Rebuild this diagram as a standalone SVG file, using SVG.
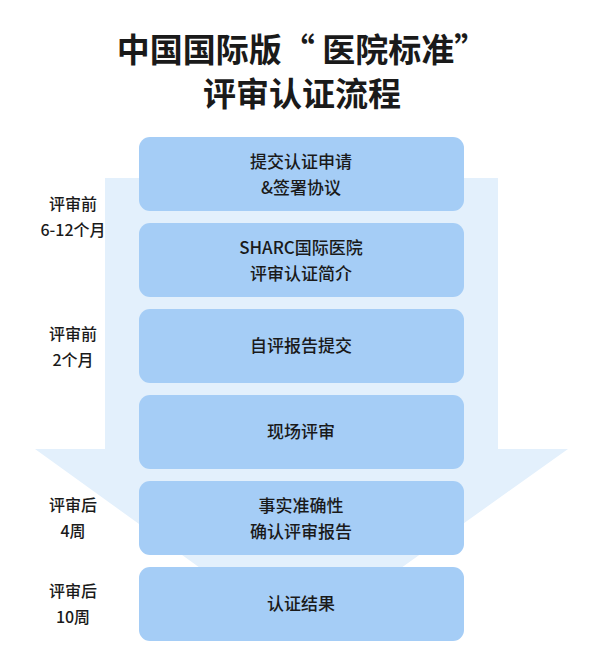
<svg xmlns="http://www.w3.org/2000/svg" width="600" height="669" viewBox="0 0 600 669">
<style>
text{font-family:"Noto Sans CJK SC","Noto Sans",sans-serif;fill:#1a1a1a;text-anchor:middle}
.t{font-size:33px;font-weight:bold}
.b{font-size:17px;font-weight:500}
.l{font-size:16px;font-weight:500}
.box{fill:#a5cdf6}
</style>
<rect width="600" height="669" fill="#fff"/>
<text class="t" x="302" y="62">中国国际版“ 医院标准”</text>
<text class="t" x="302" y="106">评审认证流程</text>
<g id="arrow"><polygon points="105,178 498,178 498,449 568,449 300,640 35,449 105,449" fill="#e3f0fc"/></g>
<g id="n1"><rect class="box" x="139" y="137" width="325" height="74" rx="11"/><text class="b" x="301" y="168">提交认证申请</text><text class="b" x="301" y="194">&amp;签署协议</text></g>
<g id="n2"><rect class="box" x="139" y="223" width="325" height="74" rx="11"/><text class="b" x="301" y="254">SHARC国际医院</text><text class="b" x="301" y="280">评审认证简介</text></g>
<g id="n3"><rect class="box" x="139" y="309" width="325" height="74" rx="11"/><text class="b" x="301" y="352">自评报告提交</text></g>
<g id="n4"><rect class="box" x="139" y="395" width="325" height="74" rx="11"/><text class="b" x="301" y="438">现场评审</text></g>
<g id="n5"><rect class="box" x="139" y="481" width="325" height="74" rx="11"/><text class="b" x="301" y="512">事实准确性</text><text class="b" x="301" y="538">确认评审报告</text></g>
<g id="n6"><rect class="box" x="139" y="567" width="325" height="74" rx="11"/><text class="b" x="301" y="610">认证结果</text></g>
<g id="labels">
<text class="l" x="73" y="210">评审前</text><text class="l" x="73" y="236">6-12个月</text>
<text class="l" x="73" y="340">评审前</text><text class="l" x="73" y="366">2个月</text>
<text class="l" x="73" y="511">评审后</text><text class="l" x="73" y="537">4周</text>
<text class="l" x="73" y="597">评审后</text><text class="l" x="73" y="623">10周</text>
</g>
</svg>
